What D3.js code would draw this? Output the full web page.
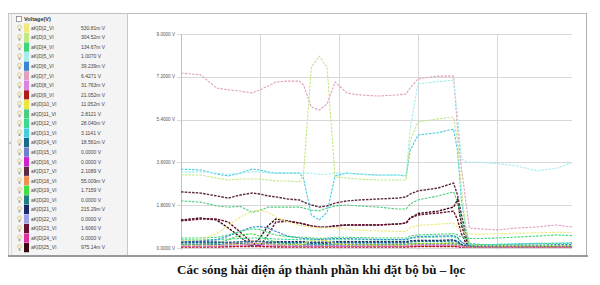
<!DOCTYPE html>
<html>
<head>
<meta charset="utf-8">
<script src="https://cdn.jsdelivr.net/npm/d3@7"></script>
<style>
body { margin: 0; background: #fff; }
svg { display: block; }
</style>
</head>
<body>
<svg></svg>
<script>
'use strict';

// sample times (arbitrary units across the recording)
var times = [0, 5, 9, 12, 15, 18, 20, 22, 24, 27, 30, 31, 33, 35, 37, 39, 42, 45, 50, 55, 57, 58, 60, 65, 69, 70, 71, 72, 73, 76, 80, 85, 90, 95, 99];
var yTicks = [0, 1.8, 3.6, 5.4, 7.2, 9.0];
var timeGrid = [0, 20, 40, 60, 80];

var names = ['aK[D]2_Vl', 'aK[D]3_Vl', 'aK[D]4_Vl', 'aK[D]5_Vl', 'aK[D]6_Vl', 'aK[D]7_Vl',
    'aK[D]8_Vl', 'aK[D]9_Vl', 'aK[D]10_Vl', 'aK[D]11_Vl', 'aK[D]12_Vl', 'aK[D]13_Vl',
    'aK[D]14_Vl', 'aK[D]15_Vl', 'aK[D]16_Vl', 'aK[D]17_Vl', 'aK[D]18_Vl', 'aK[D]19_Vl',
    'aK[D]20_Vl', 'aK[D]21_Vl', 'aK[D]22_Vl', 'aK[D]23_Vl', 'aK[D]24_Vl', 'aK[D]25_Vl'];
var readings = ['530.81m V', '304.52m V', '134.67m V', '1.0070 V', '39.239m V', '6.4271 V',
    '31.763m V', '21.052m V', '11.052m V', '2.8121 V', '28.040m V', '3.1141 V',
    '18.561m V', '0.0000 V', '0.0000 V', '2.1089 V', '55.009m V', '1.7159 V',
    '0.0000 V', '215.29m V', '0.0000 V', '1.6060 V', '0.0000 V', '975.14m V'];
var colors = ['#eeea7c', '#c4e884', '#3cd878', '#a8ecf0', '#3a84d0', '#e0a0c0',
    '#d884e0', '#b01c1c', '#ece63c', '#50cc80', '#3ad890', '#44cce0',
    '#1a6a8c', '#7080c8', '#d020d0', '#5a2a40', '#f09050', '#40e040',
    '#208080', '#1a2a6a', '#a0a0e8', '#6a1030', '#e030a0', '#3a0a14'];

var h2 = [0.30, 0.35, 0.60, 0.95, 1.30, 1.55, 1.60, 1.50, 1.30, 1.10, 0.95, 0.92, 0.88, 0.85, 0.85, 0.85, 0.80, 0.75, 0.72, 0.70, 0.70, 0.85, 0.95, 1.00, 1.05, 0.90, 0.70, 0.62, 0.58, 0.58, 0.60, 0.62, 0.64, 0.66, 0.65];
var h3 = [3.07, 3.07, 2.94, 2.86, 2.90, 2.90, 2.90, 2.86, 2.82, 2.82, 2.78, 3.07, 7.60, 8.07, 7.57, 2.99, 2.94, 2.90, 2.86, 2.86, 2.86, 4.50, 5.30, 5.43, 5.51, 4.50, 2.44, 0.97, 0.13, 0.10, 0.10, 0.10, 0.10, 0.10, 0.10];
var h4 = [0.42, 0.42, 0.45, 0.55, 0.70, 0.80, 0.78, 0.65, 0.55, 0.48, 0.45, 0.45, 0.42, 0.40, 0.42, 0.45, 0.45, 0.44, 0.42, 0.42, 0.42, 0.50, 0.55, 0.58, 0.60, 0.55, 0.45, 0.42, 0.40, 0.40, 0.42, 0.46, 0.50, 0.55, 0.52];
var h5 = [3.20, 3.20, 3.15, 3.10, 3.15, 3.20, 3.20, 3.15, 3.15, 3.15, 3.15, 3.15, 3.15, 3.10, 3.10, 3.15, 3.15, 3.10, 3.05, 3.05, 3.05, 5.00, 6.90, 7.00, 7.05, 5.60, 3.75, 3.65, 3.60, 3.60, 3.55, 3.45, 3.25, 3.35, 3.60];
var h6 = [0.30, 0.30, 0.35, 0.50, 0.70, 0.88, 0.90, 0.85, 0.70, 0.50, 0.42, 0.40, 0.38, 0.36, 0.38, 0.40, 0.40, 0.38, 0.36, 0.36, 0.36, 0.42, 0.48, 0.50, 0.52, 0.45, 0.25, 0.15, 0.10, 0.10, 0.10, 0.12, 0.12, 0.14, 0.14];
var h7 = [7.36, 7.28, 6.73, 6.65, 6.60, 6.52, 6.65, 6.81, 6.98, 7.02, 7.02, 6.86, 5.93, 5.80, 6.06, 6.98, 6.52, 6.44, 6.39, 6.44, 6.48, 6.73, 7.11, 7.23, 7.23, 5.05, 3.36, 2.10, 0.84, 0.80, 0.76, 0.84, 0.88, 0.97, 0.88];
var h8 = [0.08, 0.08, 0.08, 0.10, 0.12, 0.14, 0.14, 0.12, 0.10, 0.08, 0.08, 0.08, 0.08, 0.08, 0.08, 0.08, 0.08, 0.08, 0.08, 0.08, 0.08, 0.10, 0.12, 0.12, 0.12, 0.10, 0.06, 0.04, 0.03, 0.03, 0.03, 0.03, 0.03, 0.03, 0.03];
var h9 = [0.04, 0.04, 0.04, 0.05, 0.06, 0.06, 0.06, 0.05, 0.04, 0.04, 0.04, 0.04, 0.04, 0.04, 0.04, 0.04, 0.04, 0.04, 0.04, 0.04, 0.04, 0.05, 0.06, 0.06, 0.06, 0.05, 0.04, 0.03, 0.03, 0.03, 0.03, 0.03, 0.03, 0.03, 0.03];
var h10 = [0.10, 0.10, 0.10, 0.12, 0.15, 0.18, 0.18, 0.15, 0.12, 0.12, 0.14, 0.18, 0.32, 0.34, 0.30, 0.18, 0.14, 0.12, 0.12, 0.12, 0.12, 0.15, 0.18, 0.18, 0.18, 0.15, 0.08, 0.05, 0.04, 0.04, 0.04, 0.04, 0.04, 0.04, 0.04];
var h11 = [1.98, 1.93, 1.77, 1.72, 1.75, 1.50, 1.58, 1.72, 1.72, 1.72, 1.72, 1.68, 1.60, 1.56, 1.68, 1.77, 1.81, 1.77, 1.72, 1.64, 1.64, 1.85, 2.02, 2.19, 2.36, 1.93, 1.18, 0.55, 0.13, 0.10, 0.10, 0.10, 0.10, 0.10, 0.10];
var h12 = [0.35, 0.35, 0.35, 0.38, 0.40, 0.42, 0.42, 0.40, 0.38, 0.36, 0.35, 0.35, 0.34, 0.34, 0.34, 0.35, 0.35, 0.35, 0.34, 0.34, 0.34, 0.40, 0.45, 0.46, 0.48, 0.40, 0.25, 0.18, 0.15, 0.15, 0.15, 0.16, 0.18, 0.20, 0.20];
var h13 = [3.32, 3.28, 3.11, 3.03, 3.15, 3.32, 3.28, 3.20, 3.15, 3.15, 3.15, 2.94, 1.39, 1.18, 1.51, 3.03, 3.15, 3.11, 3.07, 3.07, 3.03, 4.10, 4.75, 4.85, 5.00, 4.10, 2.00, 0.97, 0.20, 0.15, 0.15, 0.18, 0.20, 0.20, 0.22];
var h14 = [0.22, 0.22, 0.22, 0.24, 0.26, 0.28, 0.28, 0.26, 0.24, 0.22, 0.22, 0.22, 0.20, 0.20, 0.20, 0.22, 0.22, 0.22, 0.22, 0.22, 0.22, 0.26, 0.28, 0.28, 0.30, 0.25, 0.12, 0.08, 0.06, 0.06, 0.06, 0.06, 0.06, 0.06, 0.06];
var h15 = [0.12, 0.12, 0.12, 0.14, 0.16, 0.18, 0.18, 0.16, 0.14, 0.12, 0.12, 0.12, 0.12, 0.12, 0.12, 0.12, 0.12, 0.12, 0.12, 0.12, 0.12, 0.14, 0.16, 0.16, 0.16, 0.14, 0.08, 0.05, 0.04, 0.04, 0.04, 0.04, 0.04, 0.04, 0.04];
var h16 = [0.05, 0.05, 0.05, 0.06, 0.07, 0.08, 0.08, 0.07, 0.06, 0.05, 0.05, 0.05, 0.05, 0.05, 0.05, 0.05, 0.05, 0.05, 0.05, 0.05, 0.05, 0.06, 0.07, 0.07, 0.07, 0.06, 0.04, 0.03, 0.02, 0.02, 0.02, 0.02, 0.02, 0.02, 0.02];
var h17 = [2.36, 2.31, 2.19, 2.10, 2.23, 2.31, 2.27, 2.19, 2.15, 2.06, 2.02, 1.93, 1.81, 1.72, 1.77, 1.89, 1.98, 2.02, 2.06, 2.10, 2.15, 2.27, 2.40, 2.52, 2.73, 2.23, 1.39, 0.67, 0.13, 0.06, 0.06, 0.06, 0.06, 0.06, 0.06];
var h18 = [0.05, 0.05, 0.08, 0.15, 0.25, 0.30, 0.28, 0.20, 0.12, 0.08, 0.06, 0.06, 0.06, 0.06, 0.06, 0.06, 0.06, 0.06, 0.06, 0.06, 0.06, 0.07, 0.08, 0.08, 0.08, 0.07, 0.05, 0.04, 0.03, 0.03, 0.03, 0.03, 0.03, 0.03, 0.03];
var h19 = [0.15, 0.15, 0.20, 0.35, 0.55, 0.60, 0.50, 0.35, 0.25, 0.18, 0.15, 0.15, 0.15, 0.15, 0.15, 0.15, 0.15, 0.15, 0.15, 0.15, 0.15, 0.18, 0.20, 0.20, 0.22, 0.18, 0.10, 0.06, 0.05, 0.05, 0.05, 0.05, 0.05, 0.05, 0.05];
var h20 = [0.15, 0.15, 0.15, 0.16, 0.17, 0.18, 0.18, 0.17, 0.16, 0.15, 0.15, 0.15, 0.15, 0.15, 0.15, 0.15, 0.15, 0.15, 0.15, 0.15, 0.15, 0.17, 0.18, 0.18, 0.19, 0.16, 0.08, 0.05, 0.04, 0.04, 0.04, 0.04, 0.04, 0.04, 0.04];
var h21 = [0.26, 0.26, 0.25, 0.22, 0.18, 0.12, 0.15, 0.22, 0.26, 0.26, 0.26, 0.26, 0.24, 0.24, 0.24, 0.26, 0.26, 0.26, 0.26, 0.26, 0.26, 0.30, 0.32, 0.32, 0.34, 0.28, 0.15, 0.10, 0.08, 0.08, 0.08, 0.08, 0.08, 0.08, 0.08];
var h22 = [0.12, 0.12, 0.12, 0.15, 0.20, 0.25, 0.25, 0.20, 0.15, 0.12, 0.12, 0.12, 0.12, 0.12, 0.12, 0.12, 0.12, 0.12, 0.12, 0.12, 0.12, 0.14, 0.15, 0.15, 0.15, 0.13, 0.07, 0.05, 0.04, 0.04, 0.04, 0.04, 0.04, 0.04, 0.04];
var h23 = [1.14, 1.22, 1.22, 1.09, 0.67, 0.21, 0.08, 0.55, 1.09, 1.12, 1.05, 1.01, 0.93, 0.88, 0.88, 0.93, 0.97, 0.97, 0.97, 1.01, 1.05, 1.26, 1.39, 1.47, 1.55, 1.20, 0.60, 0.25, 0.06, 0.05, 0.05, 0.05, 0.05, 0.05, 0.05];
var h24 = [0.06, 0.06, 0.06, 0.07, 0.08, 0.09, 0.09, 0.08, 0.07, 0.06, 0.06, 0.06, 0.06, 0.06, 0.06, 0.06, 0.06, 0.06, 0.06, 0.06, 0.06, 0.07, 0.08, 0.08, 0.08, 0.07, 0.05, 0.04, 0.03, 0.03, 0.03, 0.03, 0.03, 0.03, 0.03];
var h25 = [1.18, 1.26, 1.18, 0.84, 0.46, 0.08, 0.42, 0.93, 1.22, 1.14, 1.05, 1.01, 0.93, 0.88, 0.88, 0.93, 0.97, 0.97, 0.97, 1.01, 1.05, 1.26, 1.45, 1.55, 1.72, 2.02, 0.97, 0.42, 0.08, 0.05, 0.05, 0.05, 0.05, 0.05, 0.05];

var seriesValues = [h2, h3, h4, h5, h6, h7, h8, h9, h10, h11, h12, h13,
    h14, h15, h16, h17, h18, h19, h20, h21, h22, h23, h24, h25];

var title = 'Các sóng hài điện áp thành phần khi đặt bộ bù – lọc';

var svg = d3.select('svg')
    .attr('width', 600)
    .attr('height', 285)
    .style('font-family', '"Liberation Sans", Arial, sans-serif');

// window frame
var frame = svg.append('g');
frame.append('rect')
    .attr('x', 8.5).attr('y', 13.5)
    .attr('width', 119).attr('height', 242)
    .attr('fill', '#f4f4f4')
    .attr('stroke', '#c8c8c8');
frame.append('line')
    .attr('x1', 11.5).attr('x2', 11.5).attr('y1', 14).attr('y2', 255)
    .attr('stroke', '#dcdcdc');
frame.append('line')
    .attr('x1', 8).attr('x2', 587).attr('y1', 13.5).attr('y2', 13.5)
    .attr('stroke', '#c0c0c0');
frame.append('line')
    .attr('x1', 586.5).attr('x2', 586.5).attr('y1', 13).attr('y2', 256)
    .attr('stroke', '#b0b0b0');
frame.append('line')
    .attr('x1', 8).attr('x2', 588).attr('y1', 256).attr('y2', 256)
    .attr('stroke', '#9a9a9a')
    .attr('stroke-width', 2);
frame.append('circle')
    .attr('cx', 10).attr('cy', 143).attr('r', 0.8)
    .attr('fill', '#888');

// legend panel
var legend = svg.append('g');
legend.append('rect')
    .attr('x', 16.5).attr('y', 16.5).attr('width', 5).attr('height', 5)
    .attr('fill', '#fff').attr('stroke', '#777').attr('stroke-width', 0.7);
legend.append('text')
    .attr('x', 24).attr('y', 21)
    .style('font-size', '5.5px')
    .style('font-weight', 'bold')
    .attr('fill', '#333')
    .text('Voltage(V)');

var rowY = function(i) { return 28 + i * 9.55; };

var rows = legend.selectAll('.row')
    .data(names)
    .enter().append('g')
    .attr('class', 'row')
    .attr('transform', function(d, i) { return 'translate(0,' + rowY(i) + ')'; });

// little bulb icon
rows.append('circle')
    .attr('cx', 19.5).attr('cy', -1)
    .attr('r', 2)
    .attr('fill', '#f6f0c4')
    .attr('stroke', '#b8b08a')
    .attr('stroke-width', 0.5);
rows.append('rect')
    .attr('x', 18.7).attr('y', 1).attr('width', 1.6).attr('height', 2)
    .attr('fill', '#999');
rows.append('rect')
    .attr('x', 24).attr('y', -4.6)
    .attr('width', 5).attr('height', 9.2)
    .attr('fill', function(d, i) { return colors[i]; });
rows.append('text')
    .attr('x', 31).attr('y', 1.8)
    .style('font-size', '5px')
    .attr('fill', '#444')
    .text(function(d) { return d; });
rows.append('text')
    .attr('x', 81).attr('y', 1.8)
    .style('font-size', '5px')
    .attr('fill', '#444')
    .text(function(d, i) { return readings[i]; });

// plot
var x = d3.scaleLinear().domain([0, 100]).range([181, 576]);
var y = d3.scaleLinear().domain([0, 9]).range([248, 34]);

var grid = svg.append('g');
grid.selectAll('.hgrid')
    .data(yTicks)
    .enter().append('line')
    .attr('class', 'hgrid')
    .attr('x1', 177).attr('x2', x(99))
    .attr('y1', function(d) { return Math.round(y(d)) + 0.5; })
    .attr('y2', function(d) { return Math.round(y(d)) + 0.5; })
    .attr('stroke', '#d8d8d8');
grid.selectAll('.vgrid')
    .data(timeGrid)
    .enter().append('line')
    .attr('class', 'vgrid')
    .attr('x1', function(d) { return Math.round(x(d)) + 0.5; })
    .attr('x2', function(d) { return Math.round(x(d)) + 0.5; })
    .attr('y1', y(9)).attr('y2', y(0) + 2)
    .attr('stroke', function(d) { return d === 0 ? '#c0c0c0' : '#d8d8d8'; });

grid.selectAll('.ylab')
    .data(yTicks)
    .enter().append('text')
    .attr('class', 'ylab')
    .attr('x', 175).attr('y', function(d) { return y(d) + 1.6; })
    .attr('text-anchor', 'end')
    .style('font-size', '4.6px')
    .attr('fill', '#555')
    .text(function(d) { return d3.format('.4f')(d) + ' V'; });

var line = d3.line()
    .x(function(d, i) { return x(times[i]); })
    .y(function(d) { return y(d); });

var dark = ['#5a2a40', '#6a1030', '#3a0a14', '#1a2a6a', '#1a6a8c', '#208080', '#b01c1c'];

svg.append('g')
    .selectAll('path')
    .data(seriesValues.map(function(v, i) { return {values: v, color: colors[i]}; }).reverse())
    .enter().append('path')
    .attr('d', function(d) { return line(d.values); })
    .attr('fill', 'none')
    .attr('stroke', function(d) { return d.color; })
    .attr('stroke-width', function(d) { return dark.indexOf(d.color) >= 0 ? 1.4 : 1.1; })
    .attr('stroke-dasharray', '2.5,1.2');

svg.append('text')
    .attr('x', 177).attr('y', 274)
    .style('font-family', '"Liberation Serif", "Times New Roman", serif')
    .style('font-size', '13px')
    .style('font-weight', 'bold')
    .attr('fill', '#111')
    .text(title);
</script>
</body>
</html>
